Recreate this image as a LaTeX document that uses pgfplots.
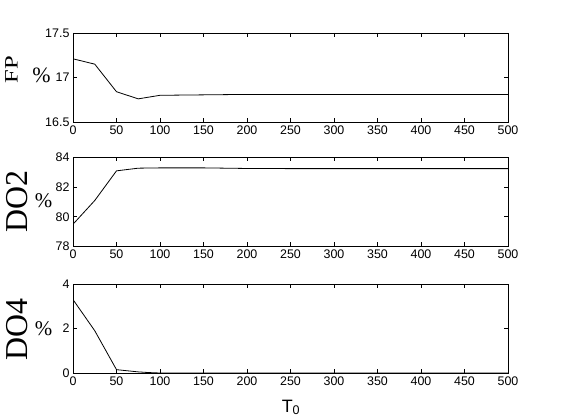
\documentclass[border=0pt]{standalone}
\usepackage{pgfplots}
\pgfplotsset{compat=1.18}
\usepackage{fontspec}
\setmainfont{Liberation Sans}
\newfontfamily\serif{Liberation Serif}

\pgfplotsset{
  panel/.style={
    scale only axis, width=435bp, height=89bp,
    anchor=south west,
    xmin=0, xmax=500, xtick={0,50,...,500},
    tick align=inside, major tick length=4bp,
    axis line style={line width=0.8bp},
    every tick/.style={black, line width=0.8bp},
    tick label style={font=\fontsize{12.5}{14}\selectfont},
    /pgf/number format/assume math mode=true,
  },
  curve/.style={black, line width=0.8bp, mark=none},
}

\begin{document}
\begin{tikzpicture}
\path[use as bounding box] (0,0) rectangle (561bp,420bp);

% FP
\begin{axis}[panel, at={(73bp,298bp)}, ymin=16.5, ymax=17.5, ytick={16.5,17,17.5}]
\addplot[curve] coordinates {(0,17.21) (25,17.15) (50,16.84) (75,16.76) (100,16.80)
  (150,16.805) (200,16.81) (250,16.81) (300,16.81) (350,16.81) (400,16.81) (450,16.81) (500,16.81)};
\end{axis}

% DO2
\begin{axis}[panel, at={(73bp,173.5bp)}, ymin=78, ymax=84, ytick={78,80,82,84}]
\addplot[curve] coordinates {(0,79.5) (25,81.1) (50,83.1) (75,83.28) (100,83.3)
  (150,83.3) (200,83.26) (250,83.25) (300,83.25) (350,83.25) (400,83.25) (450,83.25) (500,83.25)};
\end{axis}

% DO4
\begin{axis}[panel, at={(73bp,47bp)}, ymin=0, ymax=4, ytick={0,2,4}]
\addplot[curve] coordinates {(0,3.3) (25,1.9) (50,0.15) (75,0.05) (87,0.02) (100,0)
  (150,0) (200,0) (250,0) (300,0) (350,0) (400,0) (450,0) (500,0)};
\end{axis}

% y labels
\node[rotate=90, inner sep=0] at (11.5bp,350bp)
  {\serif\fontsize{19}{19}\selectfont\scalebox{1.3}[1]{FP}};
\node[inner sep=0] at (41.5bp,344.5bp) {\serif\fontsize{22}{22}\selectfont\%};
\node[rotate=90, inner sep=0] at (17.5bp,218.5bp)
  {\serif\fontsize{32}{32}\selectfont DO2};
\node[inner sep=0] at (43.5bp,219bp) {\serif\fontsize{21}{21}\selectfont\%};
\node[rotate=90, inner sep=0] at (17.5bp,90.5bp)
  {\serif\fontsize{32}{32}\selectfont DO4};
\node[inner sep=0] at (43.5bp,91.5bp) {\serif\fontsize{21}{21}\selectfont\%};

% x label
\node[anchor=base, inner sep=0] at (291bp,8bp)
  {\fontsize{18}{18}\selectfont T\textsubscript{0}};
\end{tikzpicture}
\end{document}
